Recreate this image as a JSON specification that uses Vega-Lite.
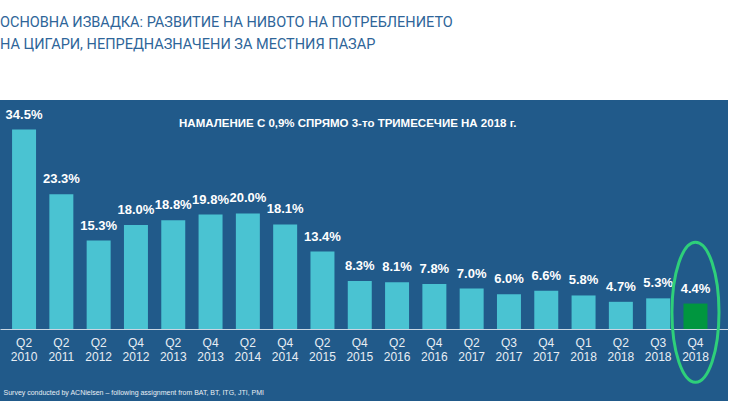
{
  "$schema": "https://vega.github.io/schema/vega-lite/v6.json",
  "width": 728,
  "height": 301,
  "autosize": "none",
  "padding": {"top": 100, "left": 0, "right": 2, "bottom": 0},
  "background": "#ffffff",
  "title": {
    "text": ["ОСНОВНА ИЗВАДКА: РАЗВИТИЕ НА НИВОТО НА ПОТРЕБЛЕНИЕТО", "НА ЦИГАРИ, НЕПРЕДНАЗНАЧЕНИ ЗА МЕСТНИЯ ПАЗАР"],
    "anchor": "start",
    "frame": "group",
    "offset": 48,
    "font": "Roboto",
    "fontSize": 14.5,
    "fontWeight": "normal",
    "lineHeight": 22,
    "color": "#2e6599"
  },
  "config": {
    "view": {"fill": "#215a8a", "stroke": null}
  },
  "data": {
    "values": [
      {"period": "Q2 2010", "value": 34.5, "latest": "no"},
      {"period": "Q2 2011", "value": 23.3, "latest": "no"},
      {"period": "Q2 2012", "value": 15.3, "latest": "no"},
      {"period": "Q4 2012", "value": 18.0, "latest": "no"},
      {"period": "Q2 2013", "value": 18.8, "latest": "no"},
      {"period": "Q4 2013", "value": 19.8, "latest": "no"},
      {"period": "Q2 2014", "value": 20.0, "latest": "no"},
      {"period": "Q4 2014", "value": 18.1, "latest": "no"},
      {"period": "Q2 2015", "value": 13.4, "latest": "no"},
      {"period": "Q4 2015", "value": 8.3, "latest": "no"},
      {"period": "Q2 2016", "value": 8.1, "latest": "no"},
      {"period": "Q4 2016", "value": 7.8, "latest": "no"},
      {"period": "Q2 2017", "value": 7.0, "latest": "no"},
      {"period": "Q3 2017", "value": 6.0, "latest": "no"},
      {"period": "Q4 2017", "value": 6.6, "latest": "no"},
      {"period": "Q1 2018", "value": 5.8, "latest": "no"},
      {"period": "Q2 2018", "value": 4.7, "latest": "no"},
      {"period": "Q3 2018", "value": 5.3, "latest": "no"},
      {"period": "Q4 2018", "value": 4.4, "latest": "yes"}
    ]
  },
  "encoding": {
    "x": {
      "field": "period",
      "type": "ordinal",
      "sort": null,
      "scale": {"paddingInner": 0.357, "paddingOuter": 0.437, "align": 0.37},
      "axis": {
        "orient": "bottom",
        "offset": -72,
        "domain": true,
        "domainColor": "#c9d6e3",
        "domainWidth": 1,
        "ticks": false,
        "labelAngle": 0,
        "labelExpr": "split(datum.label, ' ')",
        "labelFont": "Liberation Sans",
        "labelFontSize": 12,
        "labelLineHeight": 14,
        "labelColor": "#e8eef4",
        "labelPadding": 8,
        "title": "Survey conducted by ACNielsen – following assignment from BAT, BT, ITG, JTI, PMI",
        "titleFont": "Liberation Sans",
        "titleFontSize": 7,
        "titleFontWeight": "normal",
        "titleColor": "#e8eef4",
        "titleAnchor": "start",
        "titleAlign": "left",
        "titleBaseline": "alphabetic",
        "titleX": 3,
        "titleY": 65
      }
    }
  },
  "layer": [
    {
      "mark": {"type": "bar"},
      "encoding": {
        "y": {
          "field": "value",
          "type": "quantitative",
          "scale": {"domain": [-12.46, 39.62], "nice": false, "zero": false},
          "axis": null
        },
        "y2": {"datum": 0},
        "color": {
          "field": "latest",
          "type": "nominal",
          "scale": {"domain": ["no", "yes"], "range": ["#4ac3d2", "#00963f"]},
          "legend": null
        }
      }
    },
    {
      "transform": [
        {"calculate": "format(datum.value, '.1f') + '%'", "as": "label"}
      ],
      "mark": {
        "type": "text",
        "font": "Liberation Sans",
        "fontSize": 13,
        "fontWeight": "bold",
        "color": "#ffffff",
        "baseline": "alphabetic",
        "dy": -11
      },
      "encoding": {
        "y": {"field": "value", "type": "quantitative"},
        "text": {"field": "label", "type": "nominal"}
      }
    },
    {
      "data": {"values": [{"note": "НАМАЛЕНИЕ С 0,9% СПРЯМО 3-то ТРИМЕСЕЧИЕ НА 2018 г."}]},
      "mark": {
        "type": "text",
        "font": "Liberation Sans",
        "fontSize": 11.5,
        "fontWeight": "bold",
        "color": "#ffffff",
        "align": "center",
        "baseline": "alphabetic"
      },
      "encoding": {
        "x": {"datum": "Q4 2015", "bandPosition": 0},
        "y": {"datum": 35},
        "text": {"field": "note", "type": "nominal"}
      }
    },
    {
      "data": {"values": [{"period": "Q4 2018"}]},
      "mark": {
        "type": "point",
        "shape": "M-0.336,0A0.336,1,0,1,0,0.336,0A0.336,1,0,1,0,-0.336,0Z",
        "size": 19600,
        "filled": false,
        "stroke": "#2ecf7a",
        "strokeWidth": 3,
        "opacity": 1
      },
      "encoding": {
        "y": {"datum": 2.9}
      }
    }
  ]
}
